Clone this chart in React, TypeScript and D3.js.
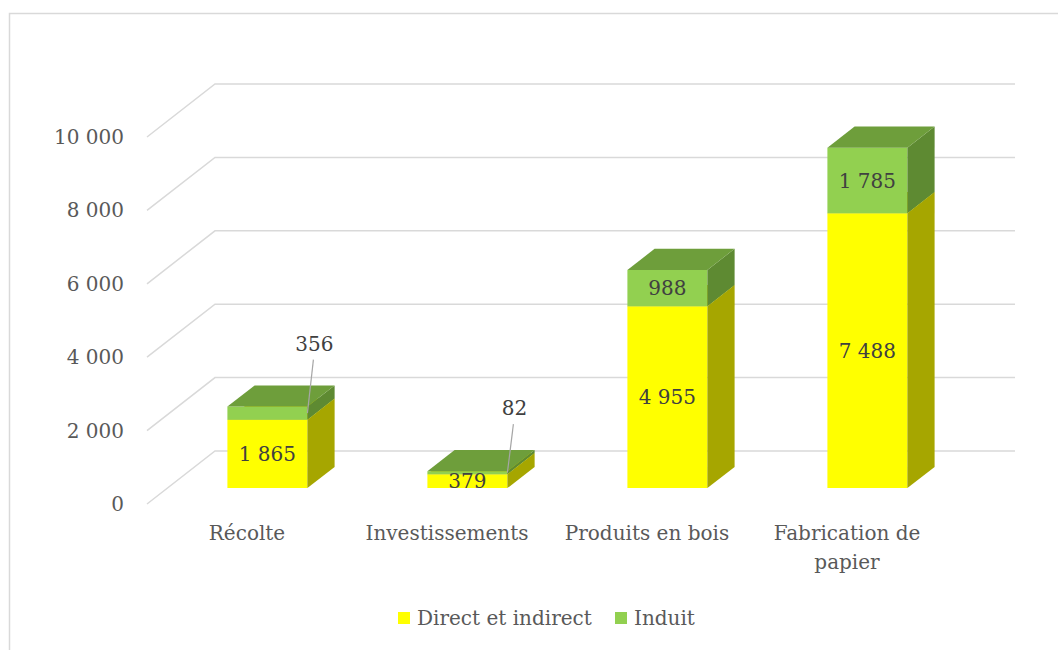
import * as d3 from "d3";

const categories = ["Récolte", "Investissements", "Produits en bois", "Fabrication de papier"];
const directIndirect = [1865, 379, 4955, 7488];
const induit = [356, 82, 988, 1785];
const yTicks = [0, 2000, 4000, 6000, 8000, 10000];
const seriesNames = ["Direct et indirect", "Induit"];

const W = 1058;
const H = 650;
const DX = 68; // depth offset of the back wall
const DY = 53;
const Z0 = 0.3; // bar front depth
const Z1 = 0.7; // bar back depth
const FONT = "'DejaVu Serif', 'Liberation Serif', serif";

const colors = {
	yellow: {front: "#FFFF00", side: "#A6A600", top: "#CCCC00"},
	green: {front: "#92D050", side: "#5E8A32", top: "#6E9E3B"},
};

const fmt = (v: number) => d3.format(",")(v).replace(/,/g, " ");

const App = () => {
	const x = d3.scaleBand().domain(categories).range([147, 947]).paddingInner(0.6).paddingOuter(0.3);
	const y = d3.scaleLinear().domain([0, 10000]).range([504, 137]);
	const proj = (px: number, v: number, z: number) => [px + z * DX, y(v) - z * DY];
	const pts = (arr: number[][]) => arr.map((p) => p.join(",")).join(" ");

	const box = (cat: string, v0: number, v1: number, c: {front: string; side: string; top: string}, key: string) => {
		const xl = x(cat)!;
		const xr = xl + x.bandwidth();
		const front = [proj(xl, v0, Z0), proj(xr, v0, Z0), proj(xr, v1, Z0), proj(xl, v1, Z0)];
		const side = [proj(xr, v0, Z0), proj(xr, v0, Z1), proj(xr, v1, Z1), proj(xr, v1, Z0)];
		const top = [proj(xl, v1, Z0), proj(xr, v1, Z0), proj(xr, v1, Z1), proj(xl, v1, Z1)];
		return (
			<g key={key}>
				<polygon points={pts(front)} fill={c.front} />
				<polygon points={pts(side)} fill={c.side} />
				<polygon points={pts(top)} fill={c.top} />
			</g>
		);
	};

	return (
		<svg width={W} height={H} style={{position: "absolute", left: 0, top: 0}} fontFamily={FONT}>
			<rect x={0} y={0} width={W} height={H} fill="#fff" />
			<rect x={9.5} y={13.5} width={W + 20} height={H + 20} fill="none" stroke="#d9d9d9" strokeWidth={1.5} />

			{/* grid: floor-side diagonal + back wall */}
			{yTicks.map((t) => {
				const a = proj(147, t, 0);
				const b = proj(147, t, 1);
				const c = proj(947, t, 1);
				return (
					<path key={t} d={`M${a}L${b}L${c}`} fill="none" stroke="#d9d9d9" strokeWidth={1.5} />
				);
			})}

			{yTicks.map((t) => (
				<text key={t} x={124} y={y(t)} dy="0.35em" textAnchor="end" fontSize={20} fill="#595959">
					{fmt(t)}
				</text>
			))}

			{categories.map((cat, i) => {
				const d = directIndirect[i];
				const n = induit[i];
				const cx = x(cat)! + x.bandwidth() / 2 + Z0 * DX;
				const xr = x(cat)! + x.bandwidth() + Z0 * DX;
				const yd = (y(0) + y(d)) / 2 - Z0 * DY;
				const yn = (y(d) + y(d + n)) / 2 - Z0 * DY;
				const small = y(d) - y(d + n) < 24;
				const topY = y(d + n) - Z0 * DY;
				return (
					<g key={cat}>
						{box(cat, 0, d, colors.yellow, "d")}
						{box(cat, d, d + n, colors.green, "n")}
						<text x={cx} y={yd} dy="0.35em" textAnchor="middle" fontSize={20} fill="#404040">
							{fmt(d)}
						</text>
						{small ? (
							<g>
								<line x1={xr} y1={yn} x2={xr + 6} y2={topY - 47} stroke="#a6a6a6" strokeWidth={1.2} />
								<text x={xr + 7} y={topY - 63} dy="0.35em" textAnchor="middle" fontSize={20} fill="#404040">
									{fmt(n)}
								</text>
							</g>
						) : (
							<text x={cx} y={yn} dy="0.35em" textAnchor="middle" fontSize={20} fill="#404040">
								{fmt(n)}
							</text>
						)}
					</g>
				);
			})}

			{categories.map((cat) => {
				const cx = x(cat)! + x.bandwidth() / 2;
				const lines = cat === "Fabrication de papier" ? ["Fabrication de", "papier"] : [cat];
				return (
					<text key={cat} x={cx} y={533} textAnchor="middle" fontSize={20} fill="#595959">
						{lines.map((l, j) => (
							<tspan key={j} x={cx} y={533 + j * 29} dy="0.35em">
								{l}
							</tspan>
						))}
					</text>
				);
			})}

			{seriesNames.map((s, i) => {
				const lx = [398, 615][i];
				return (
					<g key={s}>
						<rect x={lx} y={612} width={12} height={12} fill={i === 0 ? colors.yellow.front : colors.green.front} />
						<text x={lx + 19} y={618} dy="0.35em" fontSize={20} fill="#595959">
							{s}
						</text>
					</g>
				);
			})}
		</svg>
	);
};

export default App;
